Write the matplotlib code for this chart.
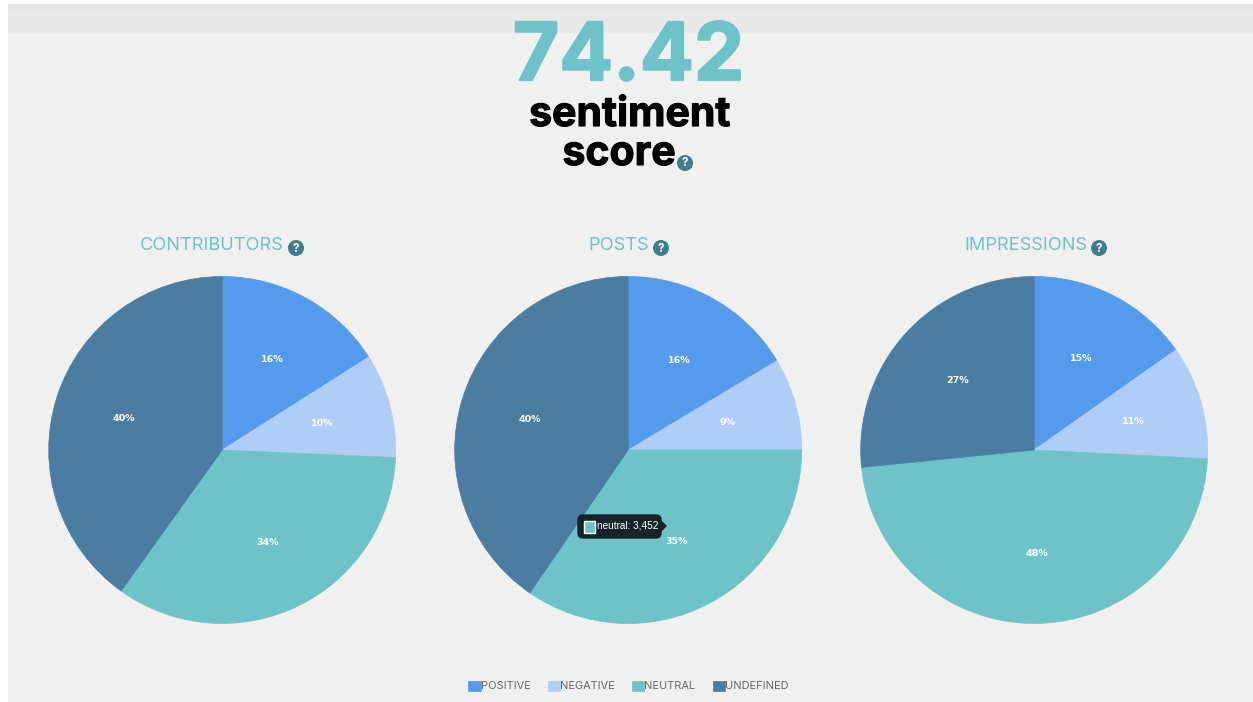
import matplotlib
matplotlib.use('Agg')
import matplotlib.pyplot as plt
import matplotlib.patheffects as pe
from matplotlib.patches import Rectangle, FancyBboxPatch, Circle, Polygon

W, H = 1253, 702

categories = ['POSITIVE', 'NEGATIVE', 'NEUTRAL', 'UNDEFINED']
colors = ['#549bed', '#afcdf7', '#6ec3c9', '#4b7da3']
titles = ['CONTRIBUTORS', 'POSTS', 'IMPRESSIONS']
contributors = [16.0, 9.7, 34.2, 40.1]
posts = [16.4, 8.6, 34.6, 40.4]
impressions = [15.2, 10.6, 47.6, 26.6]
score = '74.42'
tooltip = 'neutral: 3,452'

TEAL = '#6ec3c9'
ICON = '#3f7f8c'
GREY = '#666666'

plt.rcParams['font.family'] = ['Inter', 'DejaVu Sans']

fig = plt.figure(figsize=(W / 100, H / 100), dpi=100, facecolor='white')

# page background, in pixels
bg = fig.add_axes([0, 0, 1, 1])
bg.set_xlim(0, W)
bg.set_ylim(H, 0)
bg.axis('off')
bg.add_patch(Rectangle((8, 4), W - 8, H - 4, fc='#f0f0f0', ec='none'))
bg.add_patch(Rectangle((8, 4), W - 8, 8, fc='#e5e5e5', ec='none'))
bg.add_patch(Rectangle((8, 12), W - 8, 21, fc='#e9e9e9', ec='none'))


def help_icon(x, y):
    bg.add_patch(Circle((x, y), 8, fc=ICON, ec='none', zorder=5))
    bg.text(x, y + 0.5, '?', color='white', fontsize=8.5, fontweight='bold',
            ha='center', va='center', zorder=6)


big = bg.text(628.5, 80, score, color=TEAL, fontsize=57.5, fontweight='bold',
              ha='center', va='baseline')
big.set_path_effects([pe.withStroke(linewidth=1.5, foreground=TEAL)])
for label, x, y in [('sentiment', 629.5, 126), ('score', 619, 165)]:
    t = bg.text(x, y, label, color='black', fontsize=29.5, fontweight='bold',
                ha='center', va='baseline')
    t.set_path_effects([pe.withStroke(linewidth=0.8, foreground='black')])
help_icon(685, 163)

centers = [222.2, 628.2, 1034.2]
R = 173.5
series = [contributors, posts, impressions]
icon_x = [296, 661, 1099]
wedges = None
for cx, vals, title, ix in zip(centers, series, titles, icon_x):
    ax = fig.add_axes([(cx - R) / W, (H - 450 - R) / H, 2 * R / W, 2 * R / H])
    wedges, _, autotexts = ax.pie(vals, colors=colors, startangle=90, counterclock=False,
                                  autopct='%.0f%%', pctdistance=0.595, radius=1,
                                  textprops={'color': 'white', 'fontsize': 6.8,
                                             'fontweight': 'bold', 'family': ['DejaVu Sans']})
    ax.set_xlim(-1, 1)
    ax.set_ylim(-1, 1)
    for w, c in zip(wedges, colors):
        w.set_clip_on(False)
        w.set_edgecolor(c)  # hides the seam between slices
        w.set_linewidth(0.5)
    bg.text(ix - 12, 250, title, color=TEAL, fontsize=13.1, ha='right', va='baseline')
    help_icon(ix, 248)

fig.legend(wedges, categories, loc='center', bbox_to_anchor=(628.5 / W, 1 - 686 / H), ncol=4,
           frameon=False, fontsize=7.9, labelcolor=GREY, handlelength=1.1, handleheight=1.1,
           handletextpad=0.0, columnspacing=1.6, borderpad=0)

# hover tooltip on the posts pie
top = fig.add_axes([0, 0, 1, 1])
top.set_xlim(0, W)
top.set_ylim(H, 0)
top.axis('off')
top.patch.set_alpha(0)
top.add_patch(FancyBboxPatch((578, 515), 83, 23, boxstyle='round,pad=0,rounding_size=5',
                             fc='#16242a', ec='#16242a', lw=1))
top.add_patch(Polygon([(661, 520), (667, 526), (661, 532)], fc='#16242a', ec='none'))
top.add_patch(Rectangle((583.5, 520.5), 11.5, 12, fc=TEAL, ec='white', lw=1))
top.text(597, 526, tooltip, color='white', fontsize=7.2, family=['Liberation Sans'],
         ha='left', va='center')

fig.savefig('out.png', dpi=100)
